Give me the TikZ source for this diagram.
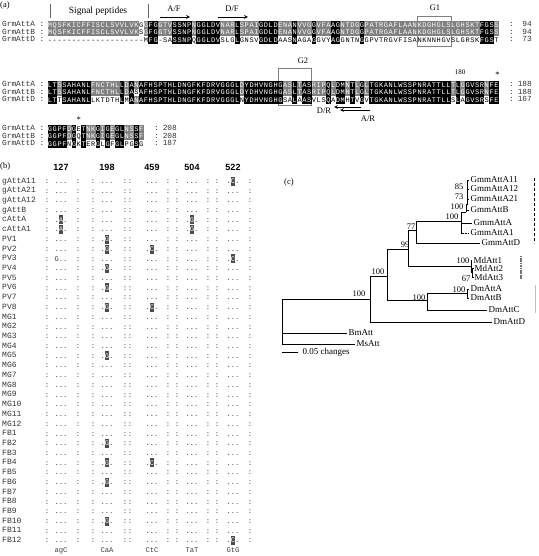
\documentclass[tikz,border=0pt]{standalone}
\usepackage{fontspec}
\setmainfont{Liberation Serif}
\newfontfamily\seqfont{Liberation Mono}
\newfontfamily\hdrfont{Liberation Sans}
\usetikzlibrary{positioning,arrows,calc}

% alignment: three rows read column by column, shaded by identity
\newcount\colidx
\def\alnstop#1{}
\def\alngo#1{#1}
\def\alnblock#1#2#3#4#5#6{\def\ya{#1}\def\yb{#2}\def\yd{#3}\colidx=0\relax
  \alnstep#4\relax#5\relax#6\relax}
\def\alnstep#1#2\relax#3#4\relax#5#6\relax{%
  \def\ka{w}\def\kb{w}\def\kd{w}%
  \if#1#3\if#1#5\def\ka{k}\def\kb{k}\def\kd{k}\else\def\ka{g}\def\kb{g}\fi
  \else\if#1#5\def\ka{g}\def\kd{g}\else\if#3#5\def\kb{g}\def\kd{g}\fi\fi\fi
  \alncell{#1}{\ka}{\ya}\alncell{#3}{\kb}{\yb}\alncell{#5}{\kd}{\yd}%
  \advance\colidx1\relax
  \ifx\relax#2\relax\expandafter\alnstop\else\expandafter\alngo\fi
  {\alnstep#2\relax#4\relax#6\relax}}
\def\alncell#1#2#3{%
  \pgfmathsetmacro\cx{50+4.8*\the\colidx}%
  \if k#2\fill[black] (\cx-2.45,#3-3.8) rectangle (\cx+2.45,#3+3.8);\fi
  \if g#2\fill[black!50] (\cx-2.45,#3-3.8) rectangle (\cx+2.45,#3+3.8);\fi
  \if w#2\node[res] at (\cx,#3) {#1};\else\node[res,text=white] at (\cx,#3) {#1};\fi}

\begin{document}
\begin{tikzpicture}[x=1pt,y=-1pt,
  res/.style={inner sep=0pt,text height=4.6pt,text depth=0pt,font=\seqfont\fontsize{7}{7}\selectfont},
  seqlab/.style={anchor=west,inner sep=0pt,text=black!80,text height=5.2pt,text depth=1.2pt,font=\seqfont\fontsize{7.8}{8}\selectfont},
  lbl/.style={inner sep=0pt,font=\fontsize{8.5}{9}\selectfont},
  dotcell/.style={inner sep=0pt,text=black!75,text height=4.6pt,text depth=0pt,font=\seqfont\fontsize{7.2}{7}\selectfont},
  snp/.style={inner sep=0pt,fill=black!70,text=white,minimum width=4.6pt,minimum height=9pt,font=\seqfont\fontsize{7}{7}\selectfont},
  hdr/.style={inner sep=0pt,font=\hdrfont\bfseries\fontsize{9}{10}\selectfont},
  leaf/.style={anchor=west,inner sep=1.5pt,font=\fontsize{9}{10}\selectfont},
  boot/.style={inner sep=0.5pt,font=\fontsize{8.5}{9}\selectfont},
  treeline/.style={line width=0.55pt},
  primer/.style={line width=0.7pt,-stealth}]
\useasboundingbox (0,0) rectangle (538,556);

% (a) alignment
\node[lbl,anchor=west] (pa) at (0,5) {(a)};
\node[lbl,font=\fontsize{9.5}{10}\selectfont] (sig) at (98,11) {Signal peptides};
\draw[black!60] (50,4) -- (50,18);
\draw[black!60] (148,4) -- (148,18);
\node[lbl] (af) at (174,9) {A/F};
\coordinate (af1) at (160,17); \coordinate (af2) at (190,17);
\draw[primer] (af1) -- (af2);
\node[lbl] (df) at (232,9) {D/F};
\coordinate (df1) at (218,17); \coordinate (df2) at (248,17);
\draw[primer] (df1) -- (df2);
\node[lbl] (g1) at (435,8) {G1};
\draw[black!50] (417.2,16) rectangle (450.8,46);
\node[lbl] (g2) at (303,61) {G2};
\draw[black!50] (278,68) rectangle (311.6,105);
\node[lbl,font=\fontsize{7}{8}\selectfont] (p180) at (460,72) {180};
\node[lbl] (st1) at (497.6,75) {*};
\node[lbl] (st2) at (78.8,120) {*};
\node[lbl] (dr) at (324,111) {D/R};
\coordinate (dr1) at (361,107); \coordinate (dr2) at (334,107);
\draw[primer] (dr1) -- (dr2);
\node[lbl] (ar) at (368,119) {A/R};
\coordinate (ar1) at (370,110); \coordinate (ar2) at (340,110);
\draw[primer] (ar1) -- (ar2);

\alnblock{25}{32.5}{40}
  {MQSFKICFFI SCLSVVLVKG GFGGTVSSNP NGGLDVNARL SPAIGDLDEN ANVVGGVFAA GNTDGGPATR GAFLAANKDG HGLSLGHSKT FGSS}
  {MQSFKICFFI SCLSVVLVKS GFGGTVSSNP NGGLDVNARL SPAIGDLDEN ANVVGGVFAA GNTDGGPATR GAFLAANKDG HGLSLGHSKT FGSS}
  {---------- ---------- MFG-SASSNP QGGLDVSLGL GNSVGDLDAA SNAGAGGVYA GGNTNGGPVT RGVFISANKN NHGVSLGRSK FGST}
\alnblock{85}{92.5}{100}
  {LTSSAHANLF NCTHLLDANA FHSPTHLDNG FKFDRVGGGL DYDHVNGHGA SLTASRIPQL DMNTLGLTGK ANLWSSPNRA TTLLTLGGVS RNFE}
  {LTSSAHANLF NCTHLLDASA FHSPTHLDNG FKFDRVGGGL DYDHVNGHGA SLTASRIPQL DMNTLGLTGK ANLWSSPNRA TTLLTLGGVS RNFE}
  {LTTSAHANLL KTDTHLMANA FHSPTHLDNG FKFDRVGGGL NYDHVNGHGS ALAASVLSQA DMHTVGVTGK ANLWSSPNRA TTLLSLAGVS RSFE}
\alnblock{129}{136.5}{144}
  {GGPFDGETNK GIGEGLNSSF}
  {GGPFDGQTNK GIGEGLNSSF}
  {GGPFNGKTER GLGFGLPGSG}

\foreach \lab/\ry [count=\i] in {A/25,B/32.5,D/40,A/85,B/92.5,D/100,A/129,B/136.5,D/144}
  \node[seqlab] (lab-\i) at (2,\ry) {GrmAtt\lab\ :};
\foreach \n/\sx/\ry [count=\i] in {94/532/25,94/532/32.5,73/532/40,188/532/85,188/532/92.5,167/532/100,208/177/129,208/177/136.5,187/177/144}{
  \node[seqlab] (col-\i) at (\sx-23,\ry) {:};
  \node[seqlab,anchor=east] (num-\i) at (\sx,\ry) {\n};
}

% (b) SNP table
\node[lbl,anchor=west] (pb) at (0,166) {(b)};
\foreach \h/\gx in {127/61,198/107,459/152,504/192,522/233}
  \node[hdr] (h-\h) at (\gx,167) {\h};
\foreach \nm [count=\i from 0] in {gAttA11,gAttA21,gAttA12,gAttB,cAttA,cAttA1,PV1,PV2,PV3,PV4,PV5,PV6,PV7,PV8,MG1,MG2,MG3,MG4,MG5,MG6,MG7,MG8,MG9,MG10,MG11,MG12,FB1,FB2,FB3,FB4,FB5,FB6,FB7,FB8,FB9,FB10,FB11,FB12}{
  \pgfmathsetmacro\ry{181+9.72*\i}
  \node[seqlab,font=\seqfont\fontsize{8}{8}\selectfont] (iso-\i) at (2,\ry) {\nm};
  \foreach \sx [count=\k] in {47,78,93,125,130,168,177,208,217,250}
    \node[dotcell] (sep-\i-\k) at (\sx,\ry) {:};
  \foreach \gx [count=\k] in {61,107,152,192,233}
    \node[dotcell] (grp-\i-\k) at (\gx,\ry) {...};
}
\foreach \r/\g/\base in {0/5/C,4/1/A,4/4/G,5/1/A,5/4/G,6/2/G,7/2/G,7/3/C,8/5/C,9/2/G,11/2/G,13/2/G,13/3/C,18/2/G,27/2/G,29/2/G,29/3/C,31/2/G,35/2/G,37/5/C}{
  \pgfmathsetmacro\ry{181+9.72*\r}
  \pgfmathsetmacro\gx{{61,107,152,192,233}[\g-1]}
  \node[snp] (snp-\r-\g) at (\gx,\ry) {\base};
}
\node[dotcell,fill=white,inner sep=0.3pt] (pv3g) at (56.7,258.76) {G};
\foreach \cd/\gx in {agC/61,CaA/107,CtC/152,TaT/192,GtG/233}
  \node[dotcell] (cod-\cd) at (\gx,550) {\cd};

% (c) tree
\node[lbl,anchor=west] (pc) at (284,182) {(c)};
\coordinate (r) at (282,320);
\coordinate (n1) at (370,299);
\coordinate (n2) at (387,276);
\coordinate (n3) at (408,249);
\coordinate (n4) at (427,300);
\coordinate (n5) at (416,230);
\coordinate (n6) at (461,221);
\coordinate (n7) at (467,293.5);
\coordinate (n8) at (466,212);
\coordinate (n9) at (467.5,204);
\coordinate (n10) at (471,266);
\coordinate (n11) at (472.5,272);
\coordinate (t1) at (463,233);
\node[leaf] (a11) at (469,180) {GmmAttA11};
\node[leaf] (a12) at (469,189) {GmmAttA12};
\node[leaf] (a21) at (469,199) {GmmAttA21};
\node[leaf] (gb) at (469,210) {GmmAttB};
\node[leaf] (ga) at (472,223) {GmmAttA};
\node[leaf] (ga1) at (469,233) {GmmAttA1};
\node[leaf] (gd) at (480,243) {GmmAttD};
\node[leaf] (md1) at (472,260) {MdAtt1};
\node[leaf] (md2) at (473,268) {MdAtt2};
\node[leaf] (md3) at (473,277) {MdAtt3};
\node[leaf] (dma) at (469,289) {DmAttA};
\node[leaf] (dmb) at (469,298) {DmAttB};
\node[leaf] (dmc) at (487,310) {DmAttC};
\node[leaf] (dmd) at (492,322) {DmAttD};
\node[leaf] (bm) at (347,333) {BmAtt};
\node[leaf] (ms) at (355,344) {MsAtt};
\foreach \p/\c in {r/n1,r/bm,r/ms,n1/n2,n1/dmd,n2/n3,n2/n4,n3/n5,n3/n10,n5/n6,n5/gd,n6/n8,n6/ga,n6/t1,n8/n9,n8/gb,n9/a11,n9/a12,n9/a21,n10/md1,n10/n11,n11/md2,n11/md3,n4/n7,n4/dmc,n7/dma,n7/dmb}
  \draw[treeline] (\p) |- (\c);
\draw[treeline,densely dotted] (t1) -- (ga1);
\node[boot,anchor=south east] (b1) at (366,297) {100};
\node[boot,anchor=south east] (b2) at (385,275) {100};
\node[boot,anchor=south east] (b3) at (410,248) {99};
\node[boot,anchor=south east] (b4) at (416,230) {77};
\node[boot,anchor=south east] (b5) at (459,220) {100};
\node[boot,anchor=east] (b6) at (464,207) {100};
\node[boot,anchor=east] (b7) at (464,197) {73};
\node[boot,anchor=east] (b8) at (464,187) {85};
\node[boot,anchor=east] (b9) at (470,261) {100};
\node[boot,anchor=east] (b10) at (471,279) {67};
\node[boot,anchor=east] (b11) at (426,298) {100};
\node[boot,anchor=east] (b12) at (466,290) {100};
\draw[densely dashed,line width=0.5pt] (534,178) -- (534,243);
\draw[black!55,line width=2.5pt,dash pattern=on 1.2pt off 0.5pt] (521,256) -- (521,279);
\draw[black!25,line width=1pt] (535,285) -- (535,313);
\coordinate (sb1) at (282,352); \coordinate (sb2) at (298,352);
\draw[treeline] (sb1) -- (sb2);
\node[leaf] (sbl) at (301,352) {0.05 changes};
\end{tikzpicture}
\end{document}
